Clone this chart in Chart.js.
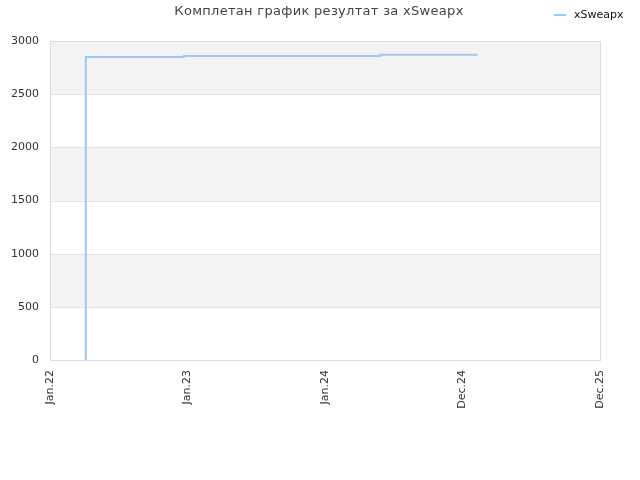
<!DOCTYPE html>
<html>
<head>
<meta charset="utf-8">
<script src="https://cdn.jsdelivr.net/npm/chart.js@4"></script>
<style>
  html, body { margin: 0; padding: 0; background: #fff; }
  #wrap { width: 640px; height: 480px; }
</style>
</head>
<body>
<div id="wrap"><canvas id="chart"></canvas></div>
<script>
const chartTitle = 'Комплетан график резултат за xSweapx';
const seriesName = 'xSweapx';

// x axis range and tick labels (ticks are evenly spaced)
const axisStart = '2022-01-20';
const axisEnd = '2025-12-20';
const tickLabels = ['Jan.22', 'Jan.23', 'Jan.24', 'Dec.24', 'Dec.25'];

// series
const pointDates = ['2022-04-23', '2022-04-23', '2022-04-23', '2022-04-23', '2022-04-23', '2023-01-03', '2024-05-27', '2025-02-05'];
const pointValues = [0, 875, 981, 2250, 2850, 2860, 2870, 2870];

const yTicks = [0, 500, 1000, 1500, 2000, 2500, 3000];

const ts = d => new Date(d + 'T00:00:00Z').getTime();
const xMin = ts(axisStart);
const xMax = ts(axisEnd);

const decorPlugin = {
    id: 'decor',
    beforeDatasetsDraw(chart) {
        const { ctx, chartArea: a, scales: { y } } = chart;
        ctx.save();
        // alternating bands
        ctx.fillStyle = '#f3f3f3';
        for (let i = 0; i < yTicks.length - 1; i++) {
            if ((yTicks.length - 2 - i) % 2 === 0) {
                const top = y.getPixelForValue(yTicks[i + 1]);
                const bot = y.getPixelForValue(yTicks[i]);
                ctx.fillRect(a.left, top, a.right - a.left, bot - top);
            }
        }
        // horizontal grid
        ctx.strokeStyle = '#e2e2e2';
        ctx.lineWidth = 1;
        yTicks.forEach(v => {
            const py = Math.round(y.getPixelForValue(v)) + 0.5;
            ctx.beginPath();
            ctx.moveTo(a.left, py);
            ctx.lineTo(a.right, py);
            ctx.stroke();
        });
        // plot border
        ctx.strokeStyle = '#dcdcdc';
        ctx.strokeRect(Math.round(a.left) + 0.5, Math.round(a.top) + 0.5,
            Math.round(a.right - a.left), Math.round(a.bottom - a.top));
        ctx.restore();
    },
    afterDraw(chart) {
        const { ctx } = chart;
        ctx.save();
        // title
        ctx.fillStyle = '#444';
        ctx.font = '13px "DejaVu Sans"';
        ctx.textAlign = 'center';
        ctx.textBaseline = 'middle';
        if ('letterSpacing' in ctx) ctx.letterSpacing = '0.3px';
        ctx.fillText(chartTitle, 319, 12);
        if ('letterSpacing' in ctx) ctx.letterSpacing = '0px';
        // legend
        ctx.strokeStyle = '#9cc8f2';
        ctx.lineWidth = 2;
        ctx.beginPath();
        ctx.moveTo(554, 15);
        ctx.lineTo(566, 15);
        ctx.stroke();
        ctx.fillStyle = '#111';
        ctx.font = '11px "DejaVu Sans"';
        ctx.textAlign = 'left';
        ctx.fillText(seriesName, 574, 15);
        ctx.restore();
    }
};

new Chart(document.getElementById('chart'), {
    type: 'line',
    data: {
        datasets: [{
            label: seriesName,
            data: pointDates.map((d, i) => ({ x: ts(d), y: pointValues[i] })),
            borderColor: '#9cc8f2',
            backgroundColor: '#9cc8f2',
            borderWidth: 2,
            pointRadius: 0,
            stepped: true,
            fill: false
        }]
    },
    options: {
        responsive: true,
        maintainAspectRatio: false,
        animation: false,
        layout: { padding: { top: 41, right: 40, left: 0, bottom: 0 } },
        plugins: {
            legend: { display: false },
            title: { display: false },
            tooltip: { enabled: false }
        },
        scales: {
            x: {
                type: 'linear',
                min: xMin,
                max: xMax,
                afterBuildTicks(scale) {
                    scale.ticks = tickLabels.map((_, i) => ({ value: xMin + (xMax - xMin) * i / (tickLabels.length - 1) }));
                },
                afterFit(scale) { scale.height = 120; },
                grid: { display: false, drawTicks: false },
                border: { display: false },
                ticks: {
                    autoSkip: false,
                    maxRotation: 90,
                    minRotation: 90,
                    padding: 10,
                    color: '#333',
                    font: { family: 'DejaVu Sans', size: 11 },
                    callback(value, index) { return tickLabels[index]; }
                }
            },
            y: {
                min: 0,
                max: 3000,
                afterBuildTicks(scale) {
                    scale.ticks = yTicks.map(v => ({ value: v }));
                },
                afterFit(scale) { scale.width = 50; },
                grid: { display: false, drawTicks: false },
                border: { display: false },
                ticks: {
                    padding: 11,
                    color: '#333',
                    font: { family: 'DejaVu Sans', size: 11 },
                    callback(value) { return String(value); }
                }
            }
        }
    },
    plugins: [decorPlugin]
});
</script>
</body>
</html>
